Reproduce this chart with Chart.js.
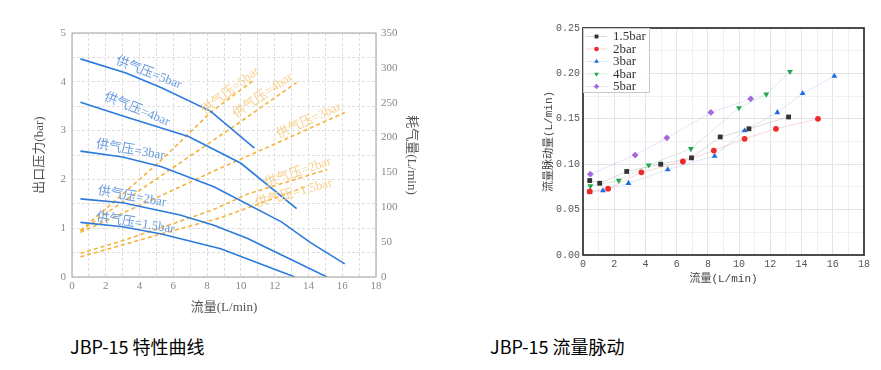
<!DOCTYPE html>
<html><head><meta charset="utf-8">
<script src="https://cdn.jsdelivr.net/npm/chart.js@4.4.0/dist/chart.umd.min.js"></script>
<style>
html,body{margin:0;padding:0;background:#fff;width:881px;height:370px;overflow:hidden;}
#c1{position:absolute;left:0;top:20px;}
#c2{position:absolute;left:520px;top:0;}
.cap{position:absolute;top:334px;font-family:"Noto Sans CJK SC","Noto Sans",sans-serif;font-size:18px;color:#000;line-height:24px;white-space:nowrap;}
</style></head><body>
<canvas id="c1" width="440" height="300"></canvas>
<canvas id="c2" width="361" height="300"></canvas>
<div class="cap" style="left:70px">JBP-15 特性曲线</div>
<div class="cap" style="left:490px">JBP-15 流量脉动</div>
<script>
// ===== Chart 1: JBP-15 characteristic curves =====
// outlet pressure (bar) vs flow (L/min)
const p5Flow = [0.5, 3.2, 5.3, 8.2, 10.8];
const p5Press = [4.47, 4.18, 3.88, 3.40, 2.64];
const p4Flow = [0.5, 3.2, 6.9, 10.0, 13.3];
const p4Press = [3.58, 3.28, 2.88, 2.33, 1.40];
const p3Flow = [0.5, 3.0, 5.3, 8.4, 12.4, 14.1, 16.15];
const p3Press = [2.58, 2.46, 2.26, 1.85, 1.13, 0.71, 0.27];
const p2Flow = [0.5, 3.0, 6.4, 8.4, 10.4, 15.1];
const p2Press = [1.60, 1.52, 1.27, 1.06, 0.79, 0.0];
const p15Flow = [0.5, 3.0, 5.3, 8.8, 13.2];
const p15Press = [1.12, 1.03, 0.88, 0.58, 0.0];
// air consumption (L/min) vs flow (L/min)
const a5Flow = [0.5, 3.2, 5.3, 8.2, 10.8];
const a5Air = [67, 123, 168, 236, 283];
const a4Flow = [0.5, 3.2, 6.9, 10.0, 13.3];
const a4Air = [66, 111, 172, 223, 279];
const a3Flow = [0.5, 5.3, 8.4, 12.4, 16.15];
const a3Air = [64, 117, 152, 195, 236];
const a2Flow = [0.5, 3.0, 6.4, 8.4, 10.4, 15.1];
const a2Air = [34, 52, 80, 97, 119, 154];
const a15Flow = [0.5, 3.0, 5.3, 8.8, 14.0];
const a15Air = [29, 46, 62, 85, 131];
const supplyNames = ['供气压=5bar', '供气压=4bar', '供气压=3bar', '供气压=2bar', '供气压=1.5bar'];

// ===== Chart 2: JBP-15 flow pulsation =====
const pulseNames = ['1.5bar', '2bar', '3bar', '4bar', '5bar'];
const pf15 = [0.43, 1.07, 2.8, 4.98, 6.95, 8.79, 10.63, 13.17];
const pv15 = [0.082, 0.079, 0.092, 0.100, 0.107, 0.130, 0.139, 0.152];
const pf2 = [0.43, 1.61, 3.74, 6.4, 8.38, 10.35, 12.36, 15.05];
const pv2 = [0.070, 0.073, 0.091, 0.103, 0.115, 0.128, 0.139, 0.150];
const pf3 = [0.43, 1.28, 2.91, 5.43, 8.43, 10.35, 12.45, 14.07, 16.1];
const pv3 = [0.069, 0.071, 0.079, 0.094, 0.109, 0.137, 0.157, 0.178, 0.197];
const pf4 = [0.47, 2.29, 4.21, 6.91, 9.99, 11.74, 13.26];
const pv4 = [0.076, 0.082, 0.099, 0.117, 0.162, 0.177, 0.202];
const pf5 = [0.47, 3.34, 5.37, 8.19, 10.74];
const pv5 = [0.089, 0.110, 0.129, 0.157, 0.172];

const pts = (xs, ys) => xs.map((x, i) => ({x: x, y: ys[i]}));

const BLUE = 'rgb(44,122,220)';
const ORANGE = 'rgb(245,178,60)';
const BLUE_TXT = 'rgb(105,155,222)';
const ORANGE_TXT = 'rgb(247,207,140)';
const SERIF = '"Liberation Serif","Noto Sans CJK SC",serif';

const frame = {
  id: 'frame',
  afterDraw(chart, args, o) {
    const a = chart.chartArea, ctx = chart.ctx;
    ctx.save(); ctx.strokeStyle = o.color; ctx.lineWidth = o.width;
    ctx.strokeRect(a.left, a.top, a.right - a.left, a.bottom - a.top);
    ctx.restore();
  }
};

const curveLabels = {
  id: 'curveLabels',
  afterDatasetsDraw(chart, args, o) {
    const ctx = chart.ctx, xs = chart.scales.x;
    o.items.forEach(it => {
      const ys = chart.scales[it.axis];
      ctx.save();
      ctx.translate(xs.getPixelForValue(it.x), ys.getPixelForValue(it.y));
      ctx.rotate(it.angle * Math.PI / 180);
      ctx.font = o.font; ctx.fillStyle = it.color;
      ctx.textAlign = 'center'; ctx.textBaseline = 'middle';
      ctx.fillText(it.text, 0, 0);
      ctx.restore();
    });
  }
};

const pressSets = [[p5Flow, p5Press], [p4Flow, p4Press], [p3Flow, p3Press], [p2Flow, p2Press], [p15Flow, p15Press]];
const airSets = [[a5Flow, a5Air], [a4Flow, a4Air], [a3Flow, a3Air], [a2Flow, a2Air], [a15Flow, a15Air]];
const ds1 = [];
pressSets.forEach((s, i) => ds1.push({label: supplyNames[i], data: pts(s[0], s[1]), yAxisID: 'y',
  borderColor: BLUE, borderWidth: 1.6, pointRadius: 0, tension: 0, fill: false}));
airSets.forEach((s, i) => ds1.push({label: supplyNames[i] + ' 耗气量', data: pts(s[0], s[1]), yAxisID: 'y2',
  borderColor: ORANGE, borderWidth: 1.6, borderDash: [4, 3], pointRadius: 0, tension: 0, fill: false}));

const tick1 = {family: SERIF, size: 11};
new Chart(document.getElementById('c1'), {
  type: 'line',
  data: {datasets: ds1},
  options: {
    responsive: false, animation: false, devicePixelRatio: 1,
    layout: {padding: {left: 28, right: 17, top: 13, bottom: 1}},
    plugins: {
      legend: {display: false}, tooltip: {enabled: false},
      frame: {color: '#b0b0b0', width: 1.2},
      curveLabels: {font: '13px ' + SERIF, items: [
        {text: supplyNames[0], axis: 'y', x: 4.54, y: 4.18, angle: 21, color: BLUE_TXT},
        {text: supplyNames[1], axis: 'y', x: 3.85, y: 3.43, angle: 22, color: BLUE_TXT},
        {text: supplyNames[2], axis: 'y', x: 3.45, y: 2.60, angle: 9.5, color: BLUE_TXT},
        {text: supplyNames[3], axis: 'y', x: 3.55, y: 1.64, angle: 10, color: BLUE_TXT},
        {text: supplyNames[4], axis: 'y', x: 3.75, y: 1.10, angle: 9, color: BLUE_TXT},
        {text: supplyNames[0], axis: 'y2', x: 9.38, y: 267, angle: -38, color: ORANGE_TXT},
        {text: supplyNames[1], axis: 'y2', x: 11.3, y: 260, angle: -35, color: ORANGE_TXT},
        {text: supplyNames[2], axis: 'y2', x: 14.02, y: 224, angle: -25, color: ORANGE_TXT},
        {text: supplyNames[3], axis: 'y2', x: 13.38, y: 150, angle: -19, color: ORANGE_TXT},
        {text: supplyNames[4], axis: 'y2', x: 13.13, y: 120, angle: -15.5, color: ORANGE_TXT}
      ]}
    },
    scales: {
      x: {type: 'linear', min: 0, max: 18,
        afterFit: s => { s.height = 42; },
        ticks: {stepSize: 1, autoSkip: false, maxRotation: 0, padding: 3, color: '#888', font: tick1,
          callback: v => (v % 2 === 0 ? String(v) : '')},
        grid: {color: '#dedede', drawTicks: false, lineWidth: 1},
        border: {display: false, dash: [3, 2]},
        title: {display: true, text: '流量(L/min)', color: '#555', font: {family: SERIF, size: 13}}},
      y: {position: 'left', min: 0, max: 5,
        afterFit: s => { s.width = 44; },
        ticks: {stepSize: 0.5, autoSkip: false, padding: 6, color: '#888', font: tick1,
          callback: v => (Number.isInteger(v) ? String(v) : '')},
        grid: {color: '#dedede', drawTicks: false},
        border: {display: false, dash: [3, 2]},
        title: {display: true, text: '出口压力(bar)', color: '#555', font: {family: SERIF, size: 13}}},
      y2: {position: 'right', min: 0, max: 350,
        afterFit: s => { s.width = 47; },
        ticks: {stepSize: 50, padding: 5, color: '#888', font: tick1},
        grid: {drawOnChartArea: false, drawTicks: false},
        border: {display: false},
        title: {display: true, text: '耗气量(L/min)', color: '#555', font: {family: SERIF, size: 13}}}
    }
  },
  plugins: [frame, curveLabels]
});

// ===== Chart 2 =====
const pulseSets = [[pf15, pv15], [pf2, pv2], [pf3, pv3], [pf4, pv4], [pf5, pv5]];
const mk = [
  {c: '#333333', l: 'rgba(60,60,60,0.18)', s: 'rect', r: 3.4, rot: 0},
  {c: '#ee2a2a', l: 'rgba(238,60,60,0.2)', s: 'circle', r: 2.9, rot: 0},
  {c: '#1c6fe3', l: 'rgba(28,111,227,0.16)', s: 'triangle', r: 3.4, rot: 0},
  {c: '#22a54e', l: 'rgba(34,165,78,0.18)', s: 'triangle', r: 3.4, rot: 180},
  {c: '#a468e0', l: 'rgba(164,104,224,0.2)', s: 'rectRot', r: 3.4, rot: 0}
];
const ds2 = pulseSets.map((s, i) => ({label: pulseNames[i], data: pts(s[0], s[1]),
  borderColor: mk[i].l, borderWidth: 1, showLine: true, tension: 0,
  pointStyle: mk[i].s, pointRotation: mk[i].rot, pointRadius: mk[i].r,
  pointBackgroundColor: mk[i].c, pointBorderColor: mk[i].c, pointBorderWidth: 0}));

function marker(ctx, style, rot, x, y, r) {
  ctx.beginPath();
  if (style === 'circle') { ctx.arc(x, y, r, 0, Math.PI * 2); }
  else if (style === 'rect') { const h = r * Math.SQRT1_2; ctx.rect(x - h, y - h, 2 * h, 2 * h); }
  else if (style === 'rectRot') { ctx.moveTo(x, y - r); ctx.lineTo(x + r, y); ctx.lineTo(x, y + r); ctx.lineTo(x - r, y); ctx.closePath(); }
  else { const d = rot ? -1 : 1; const side = r * 3 / Math.sqrt(3), h = side * Math.sqrt(3) / 2;
    ctx.moveTo(x, y - d * (2 * h / 3)); ctx.lineTo(x + side / 2, y + d * h / 3); ctx.lineTo(x - side / 2, y + d * h / 3); ctx.closePath(); }
  ctx.fill();
}

const boxLegend = {
  id: 'boxLegend',
  afterDraw(chart, args, o) {
    const ctx = chart.ctx, a = chart.chartArea;
    const L = a.left, T = a.top;
    ctx.save();
    ctx.fillStyle = 'rgba(255,255,255,0.9)';
    ctx.fillRect(L, T, 67, 65);
    ctx.strokeStyle = '#c8c8c8'; ctx.lineWidth = 1;
    ctx.strokeRect(L + 0.5, T + 0.5, 66, 64);
    chart.data.datasets.forEach((d, i) => {
      const y = T + 8.5 + i * 12.5;
      ctx.strokeStyle = mk[i].l; ctx.lineWidth = 1;
      ctx.beginPath(); ctx.moveTo(L + 3, y); ctx.lineTo(L + 24, y); ctx.stroke();
      ctx.fillStyle = mk[i].c;
      marker(ctx, mk[i].s, mk[i].rot, L + 13.5, y, mk[i].r * 0.8);
      ctx.fillStyle = '#333'; ctx.font = '13px ' + SERIF;
      ctx.textAlign = 'left'; ctx.textBaseline = 'middle';
      ctx.fillText(d.label, L + 30, y + 0.5);
    });
    ctx.restore();
  }
};

const MONO = '"Liberation Mono","Noto Sans CJK SC",monospace';
new Chart(document.getElementById('c2'), {
  type: 'scatter',
  data: {datasets: ds2},
  options: {
    responsive: false, animation: false, devicePixelRatio: 1,
    layout: {padding: {left: 18, right: 17, top: 28, bottom: 10}},
    plugins: {legend: {display: false}, tooltip: {enabled: false}, frame: {color: '#3a3a3a', width: 1.8}},
    scales: {
      x: {type: 'linear', min: 0, max: 18,
        afterFit: s => { s.height = 35; },
        ticks: {stepSize: 1, autoSkip: false, maxRotation: 0, padding: 3, color: '#555', font: {family: MONO, size: 10},
          callback: v => (v % 2 === 0 ? String(v) : '')},
        grid: {color: c => (c.tick && c.tick.value % 2 === 0 ? '#e4e4e4' : '#efefef'), drawTicks: false},
        border: {display: false},
        title: {display: true, text: '流量(L/min)', color: '#444', font: {family: MONO, size: 11}}},
      y: {min: 0, max: 0.25,
        afterFit: s => { s.width = 45; },
        ticks: {stepSize: 0.025, autoSkip: false, padding: 3, color: '#555', font: {family: MONO, size: 10},
          callback: v => { const k = v / 0.05; return Math.abs(k - Math.round(k)) < 1e-6 ? v.toFixed(2) : ''; }},
        grid: {color: c => { if (!c.tick) return '#e4e4e4'; const k = c.tick.value / 0.05; return Math.abs(k - Math.round(k)) < 1e-6 ? '#e4e4e4' : '#f1f1f1'; }, drawTicks: false},
        border: {display: false},
        title: {display: true, text: '流量脉动量(L/min)', color: '#444', font: {family: MONO, size: 11}}}
    }
  },
  plugins: [frame, boxLegend]
});
</script>
</body></html>
